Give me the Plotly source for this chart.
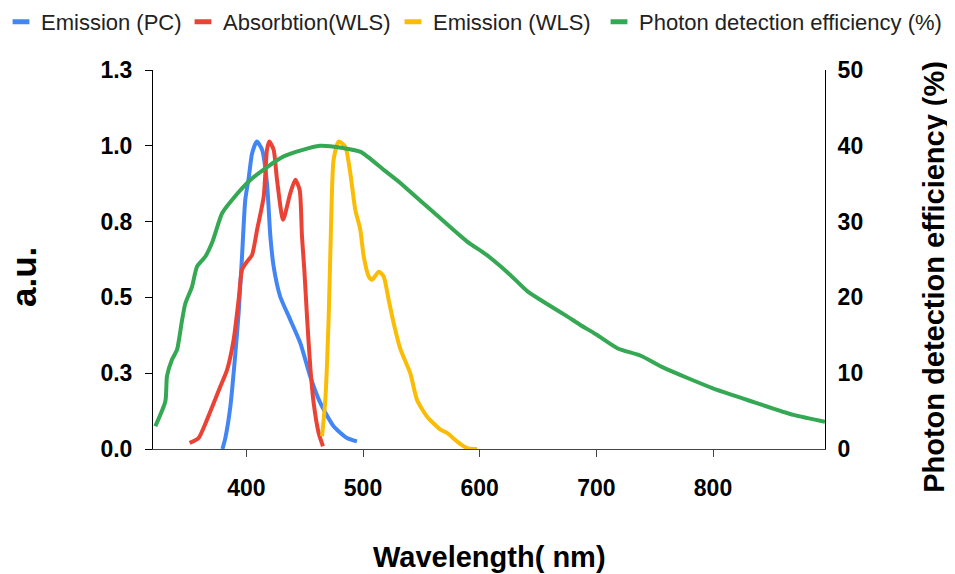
import plotly.graph_objects as go

# Emission of the photocathode (PC), left axis
pc_wl = [379.5, 382, 386.3, 390.6, 393.4, 396.3, 399.1, 402, 405, 409, 413.5, 417.7,
         420.6, 423.4, 429, 437.7, 446.3, 454.8, 463.4, 474.8, 486.3, 494.8]
pc_val = [0.0, 0.036, 0.14, 0.316, 0.448, 0.635, 0.822, 0.893, 0.976, 1.014, 0.987, 0.877,
          0.701, 0.602, 0.503, 0.426, 0.349, 0.239, 0.152, 0.075, 0.036, 0.025]

# Absorption of the wavelength shifter (WLS), left axis
abs_wl = [351.4, 359, 366.3, 377.7, 383.5, 389.1, 393.4, 396.3, 400.6, 404.9, 409.2, 414.9, 417.7, 419.7,
          423.4, 426.3, 431.5, 437.7, 442, 445.7, 447.7, 449.7, 452, 454.8, 457.7, 462, 465.7]
abs_val = [0.02, 0.036, 0.097, 0.206, 0.261, 0.36, 0.492, 0.591, 0.618, 0.64, 0.723, 0.833, 0.987, 1.014,
           0.987, 0.888, 0.756, 0.844, 0.888, 0.855, 0.701, 0.591, 0.437, 0.272, 0.152, 0.053, 0.009]

# Emission of the wavelength shifter (WLS), left axis
wls_wl = [464.9, 467.7, 470.6, 472.8, 474.8, 479.1, 484.8, 489.1, 493.4, 497.7, 500.6, 504.9,
          507.8, 513.5, 517.7, 522, 526.3, 532, 540.5, 546.3, 554.8, 566.3, 572, 580.6, 589.1, 597.7]
wls_val = [0.042, 0.162, 0.437, 0.767, 0.954, 1.014, 0.997, 0.91, 0.789, 0.723, 0.635, 0.569,
           0.558, 0.585, 0.569, 0.492, 0.415, 0.33, 0.25, 0.162, 0.107, 0.064, 0.053, 0.025, 0.003, 0.0]

# Photon detection efficiency (%), right axis
pde_wl = [322, 330.6, 332, 336.3, 340.6, 344.9, 347.7, 353.4, 357.8, 364.9, 370.6, 379.2, 386.3, 403.4,
          432, 463, 483, 498, 518, 532, 540, 560, 589, 606, 626, 641, 675, 686, 700, 718, 738, 758,
          800, 829, 869, 896]
pde_val = [3.0, 6.3, 9.6, 11.8, 13.1, 17.0, 19.2, 21.4, 24.1, 25.4, 27.2, 31.1, 32.6, 35.5,
           38.6, 40.0, 39.7, 39.2, 36.8, 35.1, 34.0, 31.3, 27.4, 25.6, 23.0, 20.8, 17.5, 16.4, 15.1, 13.3,
           12.3, 10.7, 8.0, 6.5, 4.5, 3.6]

left_ticks = [0, 0.25, 0.5, 0.75, 1.0, 1.25]
left_labels = ["0.0", "0.3", "0.5", "0.8", "1.0", "1.3"]
x_ticks = [400, 500, 600, 700, 800]

names = ["Emission (PC)", "Absorbtion(WLS)", "Emission (WLS)", "Photon detection efficiency (%)"]
colors = ["#4285F4", "#EA4335", "#FBBC04", "#34A853"]
legend_ids = ["legend", "legend2", "legend3", "legend4"]
legend_x = [-0.2262, 0.0446, 0.3571, 0.6637]

fig = go.Figure()

series = [(pc_wl, pc_val, "y"), (abs_wl, abs_val, "y"), (wls_wl, wls_val, "y"), (pde_wl, pde_val, "y2")]
for (xs, ys, ax), name, col in zip(series, names, colors):
    fig.add_trace(go.Scatter(x=xs, y=ys, yaxis=ax, mode="lines", name=name, showlegend=False,
                             line=dict(color=col, width=4, shape="spline", smoothing=0.6)))

# short bar-like legend keys, one legend box per entry so they sit in one row
for name, col, lg in zip(names, colors, legend_ids):
    fig.add_trace(go.Scatter(x=[None], y=[None], mode="markers", name=name, legend=lg,
                             marker=dict(symbol="line-ew", size=12, color=col,
                                         line=dict(color=col, width=5))))

legend_font = dict(family="Liberation Sans, Arial", size=22, color="#222222")
for lg, lx in zip(legend_ids, legend_x):
    fig.update_layout({lg: dict(orientation="h", xref="paper", yref="paper", x=lx, y=1.127,
                                xanchor="left", yanchor="middle", itemwidth=30, font=legend_font,
                                bgcolor="rgba(0,0,0,0)")})

tick_font = dict(family="Liberation Sans, Arial", size=23, color="black", weight="bold")
title_font = dict(family="Liberation Sans, Arial", size=29, color="black")

fig.update_layout(
    width=947, height=566,
    margin=dict(l=145, r=130, t=62, b=125, autoexpand=False),
    plot_bgcolor="white", paper_bgcolor="white",
    showlegend=True,
    xaxis=dict(range=[320, 896], tickvals=x_ticks, ticks="outside", ticklen=7, tickcolor="#444",
               showline=True, linecolor="#444", linewidth=1, showgrid=False, zeroline=False,
               tickfont=tick_font, ticklabelstandoff=11),
    xaxis2=dict(range=[320, 896], overlaying="x", anchor="y", side="bottom", tickvals=x_ticks,
                ticks="inside", ticklen=6, tickcolor="#444", showticklabels=False,
                showline=False, showgrid=False, zeroline=False),
    yaxis=dict(range=[0, 1.25], tickvals=left_ticks, ticktext=left_labels, ticks="outside",
               ticklen=7, tickcolor="black", showline=True, linecolor="black", linewidth=1,
               showgrid=False, zeroline=False, tickfont=tick_font, ticklabelstandoff=8),
    yaxis3=dict(range=[0, 1.25], overlaying="y", anchor="x", side="left", tickvals=left_ticks,
                ticks="inside", ticklen=7, tickcolor="black", showticklabels=False,
                showline=False, showgrid=False, zeroline=False),
    yaxis2=dict(range=[0, 50], dtick=10, overlaying="y", side="right", anchor="x",
                showline=True, linecolor="black", linewidth=1, ticks="", showgrid=False,
                zeroline=False, tickfont=tick_font, ticklabelstandoff=7),
    annotations=[
        dict(text="<b>a.u.</b>", xref="paper", yref="paper", x=-0.193, y=0.4546, textangle=-90,
             xanchor="center", yanchor="middle", showarrow=False,
             font=dict(family="Liberation Sans, Arial", size=35, color="black")),
        dict(text="<b>Wavelength( nm)</b>", xref="paper", yref="paper", x=0.5, y=-0.285,
             xanchor="center", yanchor="middle", showarrow=False, font=title_font),
        dict(text="<b>Photon detection efficiency (%)</b>", xref="paper", yref="paper",
             x=1.162, y=0.4538, textangle=-90, xanchor="center", yanchor="middle",
             showarrow=False, font=title_font),
    ],
)

fig.write_html("out.html")
